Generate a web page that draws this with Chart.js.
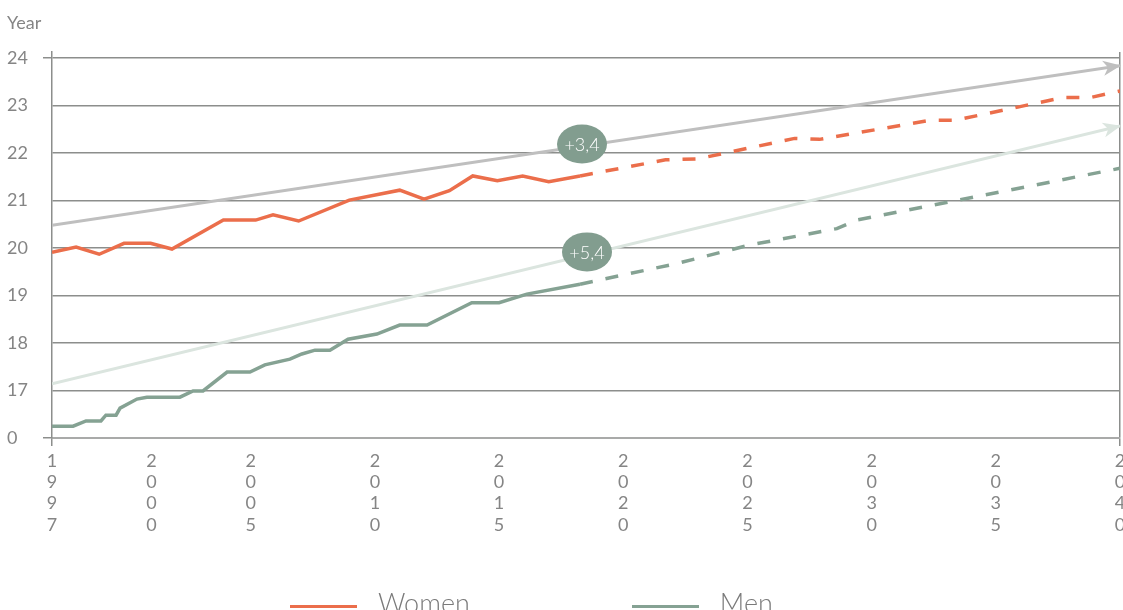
<!DOCTYPE html>
<html>
<head>
<meta charset="utf-8">
<script src="https://cdn.jsdelivr.net/npm/chart.js@4"></script>
<style>
	body { margin: 0; background: #fff; }
	#wrap { position: relative; width: 1123px; height: 610px; overflow: hidden; }
	#legend { position: absolute; left: 290px; top: 587px; display: flex; align-items: center; font-family: Lato, sans-serif; font-weight: 300; font-size: 27px; line-height: 32px; color: #7a7a7a; white-space: nowrap; }
	.item { display: flex; align-items: center; margin-right: 162px; }
	.swatch { width: 67px; height: 3px; margin-right: 21px; position: relative; top: 3px; }
</style>
</head>
<body>
<div id="wrap">
	<canvas id="chart" width="1123" height="610"></canvas>
	<div id="legend"></div>
</div>
<script>
// values (x = year)
const womenYears = [1997, 1997.97, 1998.9, 1999.9, 2000.97, 2001.83, 2003.9, 2005.2, 2005.9, 2006.93, 2008.97, 2011.0, 2011.98, 2013.0, 2013.94, 2014.93, 2015.95, 2017.0, 2018.26, 2021.7, 2023.0, 2026.9, 2027.9, 2032.35, 2033.35, 2037.7, 2038.8, 2040];
const womenValues = [19.91, 20.02, 19.87, 20.1, 20.1, 19.98, 20.59, 20.59, 20.7, 20.57, 21.01, 21.22, 21.03, 21.21, 21.52, 21.42, 21.52, 21.4, 21.52, 21.86, 21.88, 22.31, 22.29, 22.69, 22.69, 23.17, 23.17, 23.31];

const menYears = [1997, 1997.85, 1998.37, 1998.97, 1999.17, 1999.58, 1999.74, 2000.42, 2000.82, 2002.15, 2002.68, 2003.08, 2004.05, 2004.97, 2005.57, 2006.58, 2007.06, 2007.59, 2008.19, 2008.92, 2010.08, 2011.0, 2012.1, 2013.9, 2015.0, 2016.12, 2018.26, 2022.2, 2025.05, 2028.6, 2029.4, 2040];
const menValues = [16.25, 16.25, 16.36, 16.36, 16.48, 16.48, 16.63, 16.82, 16.86, 16.86, 16.99, 16.99, 17.39, 17.39, 17.54, 17.66, 17.77, 17.85, 17.85, 18.08, 18.19, 18.38, 18.38, 18.85, 18.85, 19.03, 19.24, 19.68, 20.06, 20.41, 20.59, 21.68];

const forecastFrom = 2018.26;

const trendYears = [1997, 2040];
const womenTrend = [20.48, 23.84];
const menTrend = [17.14, 22.57];

const badgeText = ["+3,4", "+5,4"];
const badgeYears = [2018.34, 2018.54];
const badgeValues = [22.19, 19.92];

const yTicks = [16, 17, 18, 19, 20, 21, 22, 23, 24];
const yTickLabels = ["0", "17", "18", "19", "20", "21", "22", "23", "24"];
const xTicks = [1997, 2001, 2005, 2010, 2015, 2020, 2025, 2030, 2035, 2040];
const xTickLabels = ["1997", "2000", "2005", "2010", "2015", "2020", "2025", "2030", "2035", "2040"];

const gridColor = "#8c8e8c";
const textColor = "#858585";
const none = "rgba(0,0,0,0)";

function toPoints(xs, ys) {
	const pts = [];
	for (let i = 0; i < xs.length; i++) {
		pts.push({ x: xs[i], y: ys[i] });
	}
	return pts;
}

const extras = {
	id: "extras",
	afterDatasetsDraw(chart) {
		const ctx = chart.ctx;
		const xs = chart.scales.x;
		const ys = chart.scales.y;

		// arrow heads on the trend lines
		chart.data.datasets.forEach(function(ds, i) {
			if (!ds.trend) return;
			const pts = chart.getDatasetMeta(i).data;
			const a = pts[pts.length - 2];
			const b = pts[pts.length - 1];
			const ang = Math.atan2(b.y - a.y, b.x - a.x);
			ctx.save();
			ctx.translate(b.x, b.y);
			ctx.rotate(ang);
			ctx.fillStyle = ds.borderColor;
			ctx.beginPath();
			ctx.moveTo(1, 0);
			ctx.lineTo(-17, -7.5);
			ctx.lineTo(-12, 0);
			ctx.lineTo(-17, 7.5);
			ctx.closePath();
			ctx.fill();
			ctx.restore();
		});

		// change badges
		for (let i = 0; i < badgeText.length; i++) {
			const px = xs.getPixelForValue(badgeYears[i]);
			const py = ys.getPixelForValue(badgeValues[i]);
			ctx.save();
			ctx.fillStyle = "#829d8f";
			ctx.beginPath();
			ctx.ellipse(px, py, 25, 19.5, 0, 0, Math.PI * 2);
			ctx.fill();
			ctx.fillStyle = "#ffffff";
			ctx.font = "300 18px Lato, sans-serif";
			ctx.textAlign = "center";
			ctx.textBaseline = "middle";
			ctx.fillText(badgeText[i], px, py + 1);
			ctx.restore();
		}
	}
};

Chart.defaults.font.family = "Lato, 'Open Sans', sans-serif";
Chart.defaults.font.weight = 300;
Chart.defaults.color = textColor;

const ctx = document.getElementById("chart").getContext("2d");

const chart = new Chart(ctx, {
	type: "line",
	data: {
		datasets: [
			{
				label: "Women",
				data: toPoints(womenYears, womenValues),
				borderColor: "#eb6e4b",
				borderWidth: 3.5,
				segment: {
					borderDash: (c) => c.p0.parsed.x >= forecastFrom ? [13, 13] : undefined,
				},
			},
			{
				label: "Men",
				data: toPoints(menYears, menValues),
				borderColor: "#85a293",
				borderWidth: 3.5,
				segment: {
					borderDash: (c) => c.p0.parsed.x >= forecastFrom ? [13, 13] : undefined,
				},
			},
			{
				label: "Women trend",
				trend: true,
				data: toPoints(trendYears, womenTrend),
				borderColor: "#bfbfbf",
				borderWidth: 3,
			},
			{
				label: "Men trend",
				trend: true,
				data: toPoints(trendYears, menTrend),
				borderColor: "#dbe5df",
				borderWidth: 3,
			},
		],
	},
	options: {
		responsive: false,
		animation: false,
		events: [],
		elements: {
			point: { radius: 0 },
			line: { tension: 0, borderCapStyle: "butt", borderJoinStyle: "miter" },
		},
		layout: {
			padding: { left: 7, right: 3, top: 0, bottom: 72 },
		},
		plugins: {
			legend: { display: false },
			tooltip: { enabled: false },
			title: {
				display: true,
				text: "Year",
				align: "start",
				color: textColor,
				font: { size: 18, weight: 400, lineHeight: 1.2 },
				padding: { top: 12, bottom: 18.4 },
			},
		},
		scales: {
			x: {
				type: "linear",
				min: 1997,
				max: 2040,
				afterBuildTicks: function(scale) {
					scale.ticks = xTicks.map((v) => ({ value: v }));
				},
				afterFit: function(scale) {
					scale.height = 100;
					scale.paddingLeft = 0;
					scale.paddingRight = 0;
				},
				ticks: {
					autoSkip: false,
					maxRotation: 0,
					padding: 5,
					color: textColor,
					font: { size: 18, weight: 400, lineHeight: 1.17 },
					callback: function(value, index) {
						return xTickLabels[index].split("");
					}
				},
				grid: {
					lineWidth: 1.5,
					tickLength: 8,
					color: (c) => c.tick && c.tick.value === 2040 ? gridColor : none,
					tickColor: (c) => c.tick && (c.tick.value === 1997 || c.tick.value === 2040) ? gridColor : none,
				},
				border: { color: "#a9aaa9", width: 2 },
			},
			y: {
				min: 16,
				max: 24.13,
				afterBuildTicks: function(scale) {
					scale.ticks = yTicks.map((v) => ({ value: v }));
				},
				afterFit: function(scale) {
					scale.width = 45;
				},
				ticks: {
					crossAlign: "far",
					color: textColor,
					font: { size: 18, weight: 400 },
					callback: function(value, index) {
						return yTickLabels[index];
					}
				},
				grid: {
					lineWidth: 1.5,
					tickLength: 9,
					color: (c) => c.tick && c.tick.value === 16 ? "#a9aaa9" : gridColor,
					tickColor: (c) => c.tick && (c.tick.value === 16 || c.tick.value === 24) ? gridColor : none,
				},
				border: { color: gridColor, width: 1.5 },
			},
		},
	},
	plugins: [extras],
});

// legend below the chart, built from the two data series
const legend = document.getElementById("legend");
chart.data.datasets.forEach(function(ds) {
	if (ds.trend) return;
	const item = document.createElement("div");
	item.className = "item";
	const sw = document.createElement("span");
	sw.className = "swatch";
	sw.style.background = ds.borderColor;
	const txt = document.createElement("span");
	txt.textContent = ds.label;
	item.appendChild(sw);
	item.appendChild(txt);
	legend.appendChild(item);
});
</script>
</body>
</html>
